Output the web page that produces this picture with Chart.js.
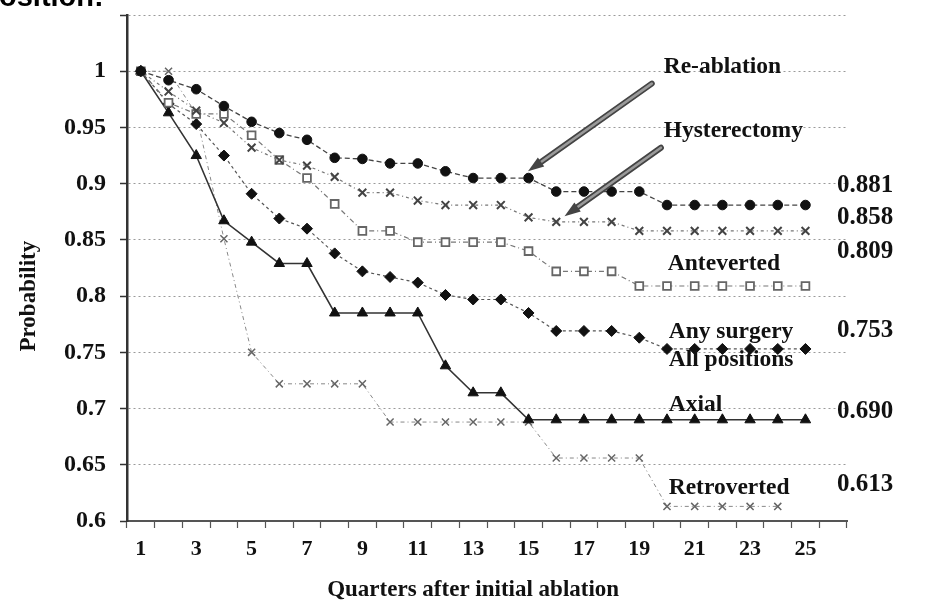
<!DOCTYPE html>
<html>
<head>
<meta charset="utf-8">
<script src="https://cdn.jsdelivr.net/npm/chart.js@4.4.1/dist/chart.umd.min.js"></script>
<style>
  html, body { margin: 0; padding: 0; background: #fff; }
  #wrap { position: relative; width: 952px; height: 609px; overflow: hidden; }
  #c { position: absolute; left: 0; top: 0; }
  #cut { position: absolute; left: -1px; top: -20px; margin: 0; white-space: nowrap;
         font: bold 29px "Liberation Sans", Arial, sans-serif; color: #000; }
</style>
</head>
<body>
<div id="wrap">
  <canvas id="c" width="952" height="609"></canvas>
  <div id="cut">osition:</div>
</div>
<script>
// Quarters after the first ablation (one spare slot at the right end of the axis)
const quarters = ['1','2','3','4','5','6','7','8','9','10','11','12','13','14','15','16','17','18','19','20','21','22','23','24','25','26'];
const yTickLabels = ['0.6','0.65','0.7','0.75','0.8','0.85','0.9','0.95','1',''];

// Survival probabilities, quarters 1..25
const reAblation   = [1.000,0.992,0.984,0.969,0.955,0.945,0.939,0.923,0.922,0.918,0.918,0.911,0.905,0.905,0.905,0.893,0.893,0.893,0.893,0.881,0.881,0.881,0.881,0.881,0.881];
const hysterectomy = [1.000,0.982,0.965,0.954,0.932,0.921,0.916,0.906,0.892,0.892,0.885,0.881,0.881,0.881,0.870,0.866,0.866,0.866,0.858,0.858,0.858,0.858,0.858,0.858,0.858];
const anteverted   = [1.000,0.972,0.962,0.962,0.943,0.921,0.905,0.882,0.858,0.858,0.848,0.848,0.848,0.848,0.840,0.822,0.822,0.822,0.809,0.809,0.809,0.809,0.809,0.809,0.809];
const anySurgery   = [1.000,0.971,0.953,0.925,0.891,0.869,0.860,0.838,0.822,0.817,0.812,0.801,0.797,0.797,0.785,0.769,0.769,0.769,0.763,0.753,0.753,0.753,0.753,0.753,0.753];
const axial        = [1.000,0.963,0.925,0.867,0.848,0.829,0.829,0.785,0.785,0.785,0.785,0.738,0.714,0.714,0.690,0.690,0.690,0.690,0.690,0.690,0.690,0.690,0.690,0.690,0.690];
const retroverted  = [1.000,1.000,0.962,0.851,0.750,0.722,0.722,0.722,0.722,0.688,0.688,0.688,0.688,0.688,0.688,0.656,0.656,0.656,0.656,0.613,0.613,0.613,0.613,0.613,null];

const SERIF = "'Liberation Serif', 'Times New Roman', serif";
const INK = '#111';

function lastValue(arr) {
  for (let i = arr.length - 1; i >= 0; i--) if (arr[i] !== null) return arr[i];
  return null;
}

// Curve names, placed in quarter / probability units
const curveNotes = [
  { text: 'Re-ablation',   q: 19.88, v: 1.0035 },
  { text: 'Hysterectomy',  q: 19.88, v: 0.9465 },
  { text: 'Anteverted',    q: 20.03, v: 0.829 },
  { text: 'Any surgery',   q: 20.06, v: 0.768 },
  { text: 'All positions', q: 20.06, v: 0.743 },
  { text: 'Axial',         q: 20.06, v: 0.703 },
  { text: 'Retroverted',   q: 20.06, v: 0.629 }
];

// End-of-follow-up values printed at the right, with their text heights
const endValues = [
  { series: reAblation,   v: 0.8985 },
  { series: hysterectomy, v: 0.870 },
  { series: anteverted,   v: 0.840 },
  { series: anySurgery,   v: 0.769 },
  { series: axial,        v: 0.697 },
  { series: retroverted,  v: 0.632 }
];

// Pointer arrows: tail and tip in quarter / probability units
const pointers = [
  { from: [19.45, 0.989], to: [14.98, 0.911] },
  { from: [19.78, 0.932], to: [16.30, 0.871] }
];

const annotations = {
  id: 'annotations',
  afterDraw(chart) {
    const { ctx, chartArea } = chart;
    const xs = chart.scales.x, ys = chart.scales.y;
    const px = q => xs.getPixelForValue(q - 1);
    const py = v => ys.getPixelForValue(v);

    ctx.save();

    // arrows
    pointers.forEach(p => {
      const x1 = px(p.from[0]), y1 = py(p.from[1]);
      const x2 = px(p.to[0]),   y2 = py(p.to[1]);
      const ang = Math.atan2(y2 - y1, x2 - x1);
      const headLen = 16, headW = 5.5;
      const bx = x2 - Math.cos(ang) * headLen, by = y2 - Math.sin(ang) * headLen;
      ctx.lineCap = 'round';
      ctx.strokeStyle = '#444';
      ctx.lineWidth = 6;
      ctx.beginPath(); ctx.moveTo(x1, y1); ctx.lineTo(bx, by); ctx.stroke();
      ctx.strokeStyle = '#9a9a9a';
      ctx.lineWidth = 2.6;
      ctx.beginPath(); ctx.moveTo(x1, y1); ctx.lineTo(bx, by); ctx.stroke();
      ctx.fillStyle = '#444';
      ctx.beginPath();
      ctx.moveTo(x2, y2);
      ctx.lineTo(bx + Math.sin(ang) * headW, by - Math.cos(ang) * headW);
      ctx.lineTo(bx - Math.sin(ang) * headW, by + Math.cos(ang) * headW);
      ctx.closePath();
      ctx.fill();
    });

    // curve names
    ctx.fillStyle = INK;
    ctx.textBaseline = 'middle';
    ctx.textAlign = 'left';
    ctx.font = 'bold 23.5px ' + SERIF;
    curveNotes.forEach(n => ctx.fillText(n.text, px(n.q), py(n.v)));

    // final values
    ctx.font = 'bold 25px ' + SERIF;
    endValues.forEach(e => ctx.fillText(lastValue(e.series).toFixed(3), chartArea.right - 10, py(e.v)));

    // axis titles
    ctx.font = 'bold 23px ' + SERIF;
    ctx.textAlign = 'center';
    ctx.fillText('Quarters after initial ablation', (px(1) + px(25)) / 2, 590);
    ctx.translate(29, (py(1) + py(0.6)) / 2);
    ctx.rotate(-Math.PI / 2);
    ctx.fillText('Probability', 0, 0);

    ctx.restore();
  }
};

function series(label, data, style) {
  return Object.assign({ label, data, tension: 0, fill: false, spanGaps: false }, style);
}

new Chart(document.getElementById('c'), {
  type: 'line',
  data: {
    labels: quarters,
    datasets: [
      series('Re-ablation', reAblation, {
        borderColor: '#444', borderWidth: 1.3, borderDash: [5, 3],
        pointStyle: 'circle', pointRadius: 4.8,
        pointBackgroundColor: '#111', pointBorderColor: '#111', pointBorderWidth: 1
      }),
      series('Hysterectomy', hysterectomy, {
        borderColor: '#777', borderWidth: 1.2, borderDash: [3, 3, 1, 3],
        pointStyle: 'crossRot', pointRadius: 5.5,
        pointBorderColor: '#444', pointBorderWidth: 2
      }),
      series('Anteverted', anteverted, {
        borderColor: '#777', borderWidth: 1.2, borderDash: [5, 3, 1, 3],
        pointStyle: 'rect', pointRadius: 5.5,
        pointBackgroundColor: '#fff', pointBorderColor: '#666', pointBorderWidth: 1.8
      }),
      series('Any surgery, all positions', anySurgery, {
        borderColor: '#555', borderWidth: 1.2, borderDash: [3, 3],
        pointStyle: 'rectRot', pointRadius: 5.5,
        pointBackgroundColor: '#111', pointBorderColor: '#111', pointBorderWidth: 1
      }),
      series('Axial', axial, {
        borderColor: '#333', borderWidth: 1.6,
        pointStyle: 'triangle', pointRadius: 6,
        pointBackgroundColor: '#111', pointBorderColor: '#111', pointBorderWidth: 1
      }),
      series('Retroverted', retroverted, {
        borderColor: '#888', borderWidth: 1, borderDash: [4, 3, 1, 3],
        pointStyle: 'crossRot', pointRadius: 5,
        pointBorderColor: '#666', pointBorderWidth: 1.5
      })
    ]
  },
  options: {
    responsive: false,
    animation: false,
    devicePixelRatio: 1,
    layout: { padding: { top: 15, right: 105, left: 0, bottom: 0 } },
    plugins: { legend: { display: false }, tooltip: { enabled: false }, title: { display: false } },
    scales: {
      x: {
        type: 'category',
        offset: true,
        grid: { display: true, offset: true, drawOnChartArea: false, drawTicks: true,
                tickLength: 7, tickColor: '#555', tickWidth: 1.2 },
        border: { display: true, color: '#555', width: 2 },
        ticks: {
          autoSkip: false, maxRotation: 0, minRotation: 0, padding: 8, color: INK,
          font: { family: SERIF, size: 22, weight: 'bold' },
          callback: (v, i) => (i % 2 === 0 && i < 25) ? quarters[i] : ''
        },
        afterFit: s => { s.height = 88; s.paddingLeft = 0; s.paddingRight = 0; }
      },
      y: {
        min: 0.6, max: 1.05,
        ticks: {
          stepSize: 0.05, padding: 14, color: INK,
          font: { family: SERIF, size: 24, weight: 'bold' },
          callback: (v, i) => yTickLabels[i]
        },
        grid: { color: '#9a9a9a', lineWidth: 1, drawTicks: true, tickLength: 7,
                tickColor: '#333', tickWidth: 1.5 },
        border: { display: true, color: '#333', width: 2.5, dash: [2, 3] },
        afterFit: s => { s.width = 127; s.paddingTop = 0; s.paddingBottom = 0; }
      }
    }
  },
  plugins: [annotations]
});
</script>
</body>
</html>
